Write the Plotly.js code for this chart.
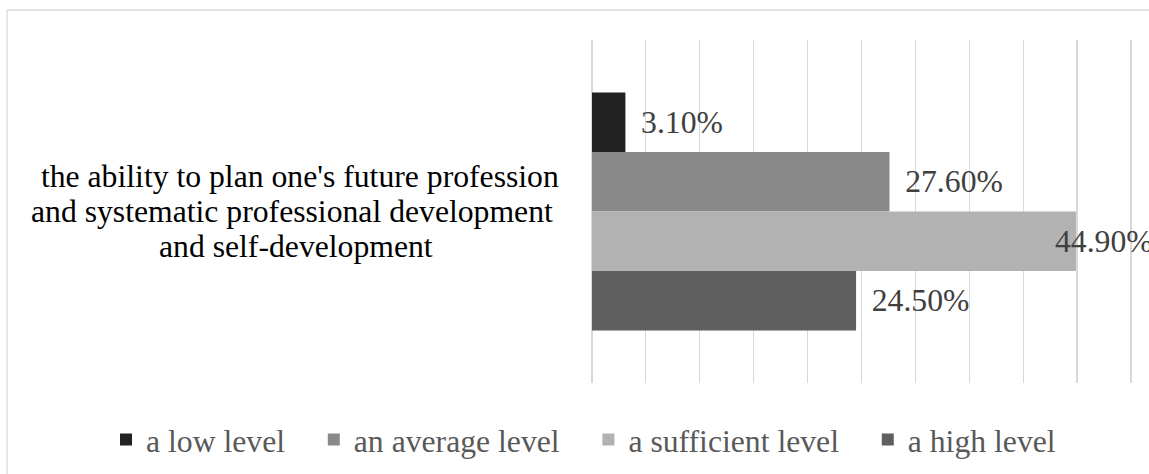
<!DOCTYPE html>
<html><head><meta charset="utf-8">
<script src="https://cdn.plot.ly/plotly-3.0.1.min.js"></script>
<style>html,body{margin:0;padding:0;background:#fff;} #chart{width:1149px;height:474px;}</style>
</head><body><div id="chart"></div>
<script>
// ---- data ----
const category = "the ability to plan one's future profession and systematic professional development and self-development";
const categoryLines = ["\u00a0the ability to plan one's future profession", "and systematic professional development\u00a0", "and self-development"];
const seriesNames = ["a low level", "an average level", "a sufficient level", "a high level"];
const seriesValues = [3.1, 27.6, 44.9, 24.5];
const seriesColors = ["#222222", "#898989", "#b2b2b2", "#5f5f5f"];
const xTickValues = [0, 5, 10, 15, 20, 25, 30, 35, 40, 45, 50];

// ---- layout constants ----
const W = 1149, H = 474, L = 592, R = 17, T = 40, B = 91;
const plotW = W - L - R, plotH = H - T - B;
const bargap = 0.306;
const FONT = "Liberation Serif, Times New Roman, serif";
const FS = 31.7;
const NB = '\u00a0';
const xMax = xTickValues[xTickValues.length - 1];
const xRangeMax = xMax + 0.1;   // tiny pad so the last gridline is drawn
const px2paperX = p => (p - L) / plotW;
const px2paperY = p => (H - B - p) / plotH;

const overflow = v => v / xRangeMax * plotW + 115 > plotW;

const traces = seriesNames.map((n, i) => ({
  type: 'bar', orientation: 'h',
  name: n + NB + NB + NB,
  y: [category], x: [seriesValues[i]],
  marker: {color: seriesColors[i]},
  texttemplate: '\u2009\u2009%{x:.2f}%',
  textposition: overflow(seriesValues[i]) ? 'none' : 'outside',
  cliponaxis: false,
  textfont: {family: FONT, size: FS, color: '#404040'},
  hoverinfo: 'none'
}));

const annotations = [];
// value labels that do not fit to the right of the plot
seriesValues.forEach((v, i) => {
  if (overflow(v)) {
    annotations.push({
      xref: 'x', x: v, yref: 'paper',
      y: 0.5 - (i - (seriesValues.length - 1) / 2) * (1 - bargap) / seriesValues.length,
      xanchor: 'left', yanchor: 'middle', xshift: -23,
      text: v.toFixed(2) + '%', showarrow: false,
      font: {family: FONT, size: FS, color: '#404040'}
    });
  }
});
// category label (three lines, centred)
const lineBase = [187, 222, 257];
categoryLines.forEach((t, k) => {
  annotations.push({
    xref: 'paper', x: px2paperX(296), yref: 'paper', y: px2paperY(lineBase[k] - 10.7),
    xanchor: 'center', yanchor: 'middle', text: t, showarrow: false,
    font: {family: FONT, size: FS, color: '#000000'}
  });
});

const layout = {
  width: W, height: H,
  margin: {l: L, r: R, t: T, b: B, pad: 0, autoexpand: false},
  paper_bgcolor: '#ffffff', plot_bgcolor: '#ffffff',
  font: {family: FONT},
  barmode: 'group', bargap: bargap, bargroupgap: 0,
  xaxis: {range: [0, xRangeMax], tickvals: xTickValues, showticklabels: false, ticks: '',
          showgrid: true, gridcolor: '#d9d9d9', gridwidth: 1.2,
          zeroline: true, zerolinecolor: '#d9d9d9', zerolinewidth: 1.2, showline: false, fixedrange: true},
  yaxis: {type: 'category', autorange: 'reversed', showticklabels: false, ticks: '',
          showgrid: false, zeroline: false, showline: false, fixedrange: true},
  showlegend: true,
  legend: {orientation: 'h', xref: 'paper', x: px2paperX(106), xanchor: 'left',
           yref: 'paper', y: px2paperY(440), yanchor: 'middle',
           font: {family: FONT, size: FS, color: '#595959'},
           bgcolor: 'rgba(0,0,0,0)', traceorder: 'normal'},
  annotations: annotations,
  shapes: [
    {type: 'line', xref: 'paper', yref: 'paper', x0: px2paperX(7), x1: px2paperX(W + 5), y0: px2paperY(10), y1: px2paperY(10),
     line: {color: '#d9d9d9', width: 1.3}},
    {type: 'line', xref: 'paper', yref: 'paper', x0: px2paperX(7), x1: px2paperX(7), y0: px2paperY(10), y1: px2paperY(H + 5),
     line: {color: '#d9d9d9', width: 1.3}}
  ]
};

Plotly.newPlot('chart', traces, layout, {displayModeBar: false, staticPlot: true});
</script>
</body></html>
